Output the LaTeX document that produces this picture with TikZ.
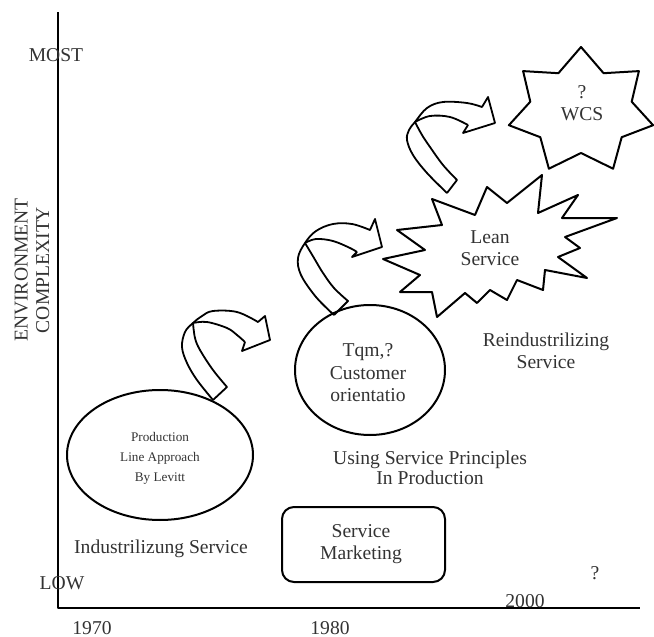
\documentclass[tikz,border=0pt]{standalone}
\usepackage{fontspec}
\setmainfont{Liberation Serif}
\usetikzlibrary{shapes.geometric}
\begin{document}
\begin{tikzpicture}[x=0.5pt,y=-0.5pt,line join=round,
  lbl/.style={font=\fontsize{9.8}{10.8}\selectfont,text=black!80,align=center,inner sep=0pt},
  lblsmall/.style={font=\fontsize{6.6}{10}\selectfont,text=black!80,align=center,inner sep=0pt},
  stage/.style={draw,ellipse,line width=1pt,inner sep=0pt},
  boxstage/.style={draw,rounded corners=6pt,line width=1pt,inner sep=0pt},
  outline/.style={draw,line width=1pt},
  band/.style={draw,line width=0.9pt},
  axis/.style={draw,line width=0.9pt}]
\useasboundingbox (0,0) rectangle (654,637);

% axes
\coordinate (ytop) at (58,12);
\coordinate (origin) at (58,608);
\coordinate (xend) at (640,608);
\draw[axis] (ytop) -- (origin) -- (xend);

% axis labels
\node[lbl] (most) at (56,55) {MOST};
\node[lbl] (low) at (62,583) {LOW};
\node[lbl,rotate=90] (yname) at (32,270) {ENVIRONMENT\\COMPLEXITY};
\node[lbl] (y1970) at (92,628) {1970};
\node[lbl] (y1980) at (330,628) {1980};
\node[lbl] (y2000) at (525,601) {2000};
\node[lbl] (later) at (595,573) {?};

% curved block arrows between the stages
% first arrow
\draw[band] plot[smooth,tension=0.6] coordinates {(213,400) (197,380) (187,363) (182,347) (185,332) (193,323) (202,316) (213,311) (237,312) (258,322)}
  -- (265,316) -- (270,340) -- (242,351) -- (245,342);
\draw[band] plot[smooth,tension=0.6] coordinates {(245,342) (237,335) (227,328) (207,322) (193,323)};
\draw[band] plot[smooth,tension=0.6] coordinates {(193,323) (195,338) (200,350) (213,370) (227,387)} -- (213,400);
% second arrow
\draw[band] plot[smooth,tension=0.6] coordinates {(334,315) (316,297) (301,275) (298,258) (305,243) (316,231) (333,224) (352,224) (370,230)}
  -- (375,219) -- (382,247) -- (352,257) -- (357,252);
\draw[band] plot[smooth,tension=0.6] coordinates {(357,252) (350,248) (333,241) (316,239) (305,243)};
\draw[band] plot[smooth,tension=0.6] coordinates {(305,243) (314,258) (323,273) (334,288) (348,301)} -- (334,315);
% third arrow
\draw[band] plot[smooth,tension=0.6] coordinates {(447,193) (427,173) (413,155) (407,140) (409,130) (415,122) (427,108) (443,102) (467,103) (482,107)}
  -- (488,97) -- (495,123) -- (463,133) -- (468,125);
\draw[band] plot[smooth,tension=0.6] coordinates {(468,125) (450,117) (430,116) (415,122)};
\draw[band] plot[smooth,tension=0.6] coordinates {(415,122) (422,135) (430,147) (443,165) (457,180)} -- (447,193);

% stages
\node[stage,minimum width=93pt,minimum height=65pt] (levitt) at (160,455) {};
\node[lblsmall] (levitttext) at (160,458) {Production\\Line Approach\\By Levitt};
\node[stage,minimum width=75pt,minimum height=65pt] (tqm) at (370,370) {};
\node[lbl,font=\fontsize{9.8}{11.3}\selectfont] (tqmtext) at (368,373) {Tqm,?\\Customer\\orientatio};
\node[boxstage,minimum width=81.5pt,minimum height=37.5pt] (marketing) at (363.5,544.5) {};
\node[lbl,font=\fontsize{9.8}{11}\selectfont] (marketingtext) at (361,544) {Service\\Marketing};

% lean service burst
\draw[outline] (383,259) -- (425,250) -- (397,230) -- (442,225) -- (432,199) -- (475,215)
  -- (487,187) -- (507,203) -- (542,175) -- (538,213) -- (578,195) -- (562,218)
  -- (617,218) -- (565,237) -- (580,248) -- (558,257) -- (587,278) -- (545,270)
  -- (543,290) -- (517,280) -- (507,300) -- (490,290) -- (477,303) -- (465,293)
  -- (437,317) -- (432,292) -- (400,292) -- (420,275) -- cycle;
\node[lbl] (lean) at (490,248) {Lean\\Service};

% seven pointed star
\draw[outline] (581,47) -- (558.4,73.2) -- (523.1,71.1) -- (530.3,101.7) -- (508.9,125.2)
  -- (540.3,137.2) -- (548.9,168.7) -- (581,153) -- (613.1,168.7) -- (621.7,137.2)
  -- (653.1,125.2) -- (631.7,101.7) -- (638.9,71.1) -- (603.6,73.2) -- cycle;
\node[lbl] (wcs) at (582,103) {?\\WCS};

% era labels
\node[lbl] (industrial) at (161,549) {Industrilizung Service};
\node[lbl,font=\fontsize{9.8}{10.2}\selectfont] (principles) at (430,468) {Using Service Principles\\In Production};
\node[lbl,font=\fontsize{9.8}{11}\selectfont] (reindustrial) at (546,351) {Reindustrilizing\\Service};
\end{tikzpicture}
\end{document}
